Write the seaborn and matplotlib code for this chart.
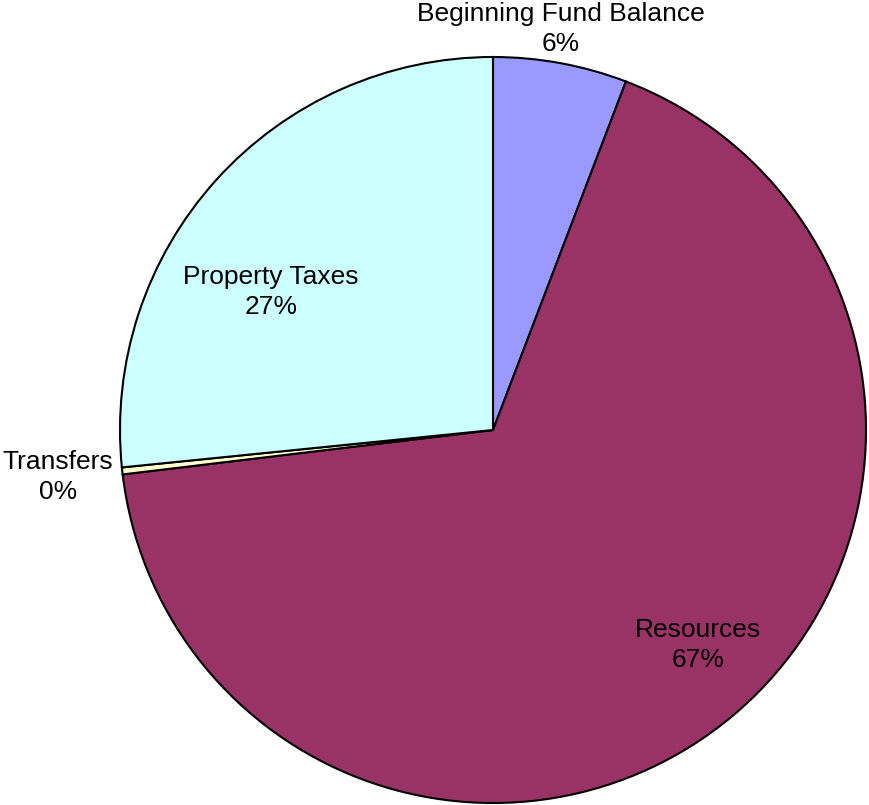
import matplotlib
matplotlib.use("Agg")
import matplotlib.pyplot as plt
import seaborn as sns

sns.set_theme(style="white")
plt.rcParams['font.family'] = ['Liberation Sans', 'DejaVu Sans']

categories = ["Beginning Fund Balance", "Resources", "Transfers", "Property Taxes"]
values = [5.8, 67.3, 0.3, 26.6]
pct_labels = ["6%", "67%", "0%", "27%"]
colors = ["#9999FF", "#993366", "#FFFFCC", "#CCFFFF"]

W, H = 869, 805
cx, cy, R = 493, 430, 373

fig = plt.figure(figsize=(W / 100, H / 100), dpi=100)
ax = fig.add_axes([0, 0, 1, 1])
ax.pie(values, colors=colors, startangle=90, counterclock=False, radius=1,
       wedgeprops=dict(edgecolor="black", linewidth=1.5))
ax.set_xlim(-cx / R, (W - cx) / R)
ax.set_ylim(-(H - cy) / R, cy / R)
ax.set_aspect("auto")
ax.axis("off")

def px(x, y):
    return (x - cx) / R, (cy - y) / R

label_pos = [(561, 29), (698, 645), (58, 477), (271, 292)]
for name, pct, (x, y) in zip(categories, pct_labels, label_pos):
    tx, ty = px(x, y)
    ax.text(tx, ty, f"{name}\n{pct}", ha="center", va="center",
            fontsize=19, color="black", linespacing=1.3)

fig.savefig("out.png", dpi=100)
